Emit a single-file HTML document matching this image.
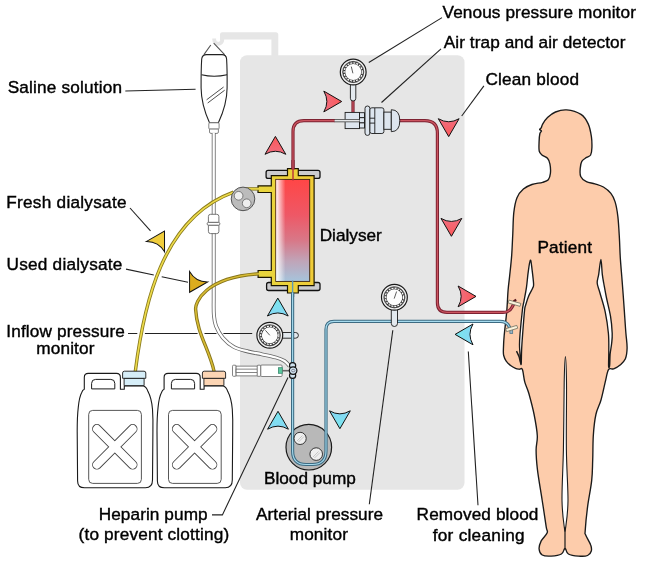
<!DOCTYPE html>
<html><head><meta charset="utf-8"><title>Hemodialysis</title>
<style>
html,body{margin:0;padding:0;background:#fff;width:654px;height:564px;overflow:hidden}
svg{display:block}
text{font-family:"Liberation Sans",sans-serif;font-size:17.2px;fill:#000;stroke:#000;stroke-width:0.4px}
.tx{opacity:0.999}
</style></head><body>
<svg width="654" height="564" viewBox="0 0 654 564">
<defs>
<path id="arw" d="M0,0 L10.4,17.9 Q0,11.8 -10.4,17.9 Z"/>
<linearGradient id="dg" x1="0" y1="0" x2="0" y2="1">
<stop offset="0" stop-color="#ff4646"/>
<stop offset="0.35" stop-color="#ee5866"/>
<stop offset="0.6" stop-color="#d87888"/>
<stop offset="0.8" stop-color="#c0a4b8"/>
<stop offset="1" stop-color="#a6c4dc"/>
</linearGradient>
<linearGradient id="dgh" x1="0" y1="0" x2="1" y2="0">
<stop offset="0" stop-color="#fff" stop-opacity="0.95"/>
<stop offset="0.28" stop-color="#fff" stop-opacity="0"/>
</linearGradient>
<filter id="gs" x="0" y="0" width="654" height="564" filterUnits="userSpaceOnUse"><feOffset dx="0" dy="0"/></filter>
<linearGradient id="gr" x1="0" y1="0" x2="0" y2="1"><stop offset="0" stop-color="#fc5858"/><stop offset="1" stop-color="#f06e80"/></linearGradient>
<linearGradient id="gc" x1="0" y1="0" x2="0" y2="1"><stop offset="0" stop-color="#78e8ee"/><stop offset="1" stop-color="#86d6f4"/></linearGradient>
<linearGradient id="gy" x1="0" y1="0" x2="1" y2="0"><stop offset="0" stop-color="#e8d63e"/><stop offset="1" stop-color="#f0cc38"/></linearGradient>
<clipPath id="pc"><circle cx="308.8" cy="447.2" r="22.8"/></clipPath>
</defs>

<!-- pole & machine box -->
<g fill="#e6e6e6">
<path d="M220,40 L220,34.5 Q220,32.3 222.2,32.3 L275.8,32.3 Q278.3,32.3 278.3,34.8 L278.3,58 L271.4,58 L271.4,39.6 L223.8,39.6 L223.8,40 Z"/>
<rect x="240" y="55.3" width="224.5" height="434.4" rx="7"/>
</g>
<path d="M222.3,34 L222.3,39.75 A4.05,4.05 0 0 1 214.2,39.75 L214.2,38.6" fill="none" stroke="#e6e6e6" stroke-width="3.8"/>

<!-- saline bag -->
<g fill="none" stroke="#222" stroke-width="1.1">
<path d="M210.8,45 L203.9,54.6 M213.7,43.1 L224.6,54.6" stroke="#555"/>
<path d="M206.5,54.6 L222,54.6 Q226.3,54.6 226.6,59 Q227.3,70 227.1,88 C227,103 222,115 218.4,122.8 L209.5,122.8 C206,115 201.2,103 201.1,88 Q201,70 201.7,59 Q202.2,54.6 206.5,54.6 Z" fill="#fff"/>
<path d="M201.5,74.8 Q214,77.8 227.1,74.8"/>
<path d="M206.6,99.8 L223.6,87 M207.7,103 L224.7,90.2" stroke-width="0.8"/>
</g>
<g fill="#fff" stroke="#777" stroke-width="0.9">
<rect x="208.8" y="122.8" width="10.3" height="6.3" rx="1"/>
<path d="M209.5,129.1 L218.4,129.1 L218.4,132 Q218.4,133.4 217,133.4 L211,133.4 Q209.5,133.4 209.5,132 Z"/>
</g>
<path d="M213.7,133 L213.7,300  C213.7,302.5 213.5,310.7 213.9,315.0 C214.3,319.3 214.5,322.2 216.0,326.0 C217.5,329.8 219.8,334.2 222.8,337.7 C225.8,341.2 229.6,344.6 233.8,346.9 C238.0,349.2 243.3,350.3 248.0,351.5 C252.7,352.7 257.3,353.3 262.0,354.3 C266.7,355.3 272.2,356.4 276.0,357.5 C279.8,358.6 282.2,359.6 284.5,361.0 C286.8,362.4 288.7,365.2 289.5,366.0" fill="none" stroke="#666" stroke-width="3.9" />
<path d="M213.7,133 L213.7,300  C213.7,302.5 213.5,310.7 213.9,315.0 C214.3,319.3 214.5,322.2 216.0,326.0 C217.5,329.8 219.8,334.2 222.8,337.7 C225.8,341.2 229.6,344.6 233.8,346.9 C238.0,349.2 243.3,350.3 248.0,351.5 C252.7,352.7 257.3,353.3 262.0,354.3 C266.7,355.3 272.2,356.4 276.0,357.5 C279.8,358.6 282.2,359.6 284.5,361.0 C286.8,362.4 288.7,365.2 289.5,366.0" fill="none" stroke="#fff" stroke-width="2.3" />
<g fill="#fff" stroke="#666" stroke-width="0.9">
<path d="M208.4,222.4 L208.4,216.5 Q208.4,214.3 210.6,214.3 L216.7,214.3 Q218.9,214.3 218.9,216.5 L218.9,222.4 Z"/>
<path d="M208.4,225.2 L208.4,231.4 Q208.4,233.6 210.6,233.6 L216.7,233.6 Q218.9,233.6 218.9,231.4 L218.9,225.2 Z"/>
<rect x="207.1" y="222.4" width="12.8" height="2.8" rx="1.4"/>
</g>

<!-- tubing -->
<circle cx="308.8" cy="447.2" r="22.8" fill="#b8b8b8" stroke="#1a1a1a" stroke-width="1.2"/>
<g>
<rect x="280" y="332.5" width="18.4" height="5.7" rx="2.85" fill="#e3e9ee" stroke="#1a1a1a" stroke-width="0.9"/>
<circle cx="269.8" cy="335.3" r="12.9" fill="#f2f2f2" stroke="#1a1a1a" stroke-width="1.2"/>
<circle cx="269.8" cy="335.3" r="10.6" fill="#fdfdfd" stroke="#1a1a1a" stroke-width="0.7"/>
<circle cx="269.8" cy="335.3" r="9.2" fill="none" stroke="#2a2a2a" stroke-width="2.4"/>
<circle cx="269.8" cy="335.3" r="9.1" fill="none" stroke="#fff" stroke-width="1.2" stroke-dasharray="2.1 0.95"/>
<path d="M269.8,335.3 L265.4,330.3" stroke="#333" stroke-width="0.8"/>
</g>
<path d="M293,170 L293,131.7 Q293,120.7 304,120.7 L335,120.7" fill="none" stroke="#7e2232" stroke-width="3.2" />
<path d="M293,170 L293,131.7 Q293,120.7 304,120.7 L335,120.7" fill="none" stroke="#cc5560" stroke-width="1.2" />
<path d="M399,120.7 L424.9,120.7 Q437.4,120.7 437.4,133.2 L437.4,302.8 Q437.4,312.4 447,312.4 L490,312.4" fill="none" stroke="#7e2232" stroke-width="3.2" />
<path d="M399,120.7 L424.9,120.7 Q437.4,120.7 437.4,133.2 L437.4,302.8 Q437.4,312.4 447,312.4 L490,312.4" fill="none" stroke="#cc5560" stroke-width="1.2" />
<path d="M353,100 L353,112.5" fill="none" stroke="#7e2232" stroke-width="3.2" />
<path d="M353,100 L353,112.5" fill="none" stroke="#cc5560" stroke-width="1.2" />
<path d="M292.6,283 L292.6,451 Q292.6,464.5 306.1,464.5 L312.5,464.5 Q326,464.5 326,451 L326,329.4 Q326,321.4 334,321.4 L490,321.4" fill="none" stroke="#3d6b82" stroke-width="3.2" />
<path d="M292.6,283 L292.6,451 Q292.6,464.5 306.1,464.5 L312.5,464.5 Q326,464.5 326,451 L326,329.4 Q326,321.4 334,321.4 L490,321.4" fill="none" stroke="#a6dbef" stroke-width="1.1" />

<!-- dialyser -->
<rect x="266.1" y="170.4" width="53.9" height="8" rx="2" fill="#cbcbce" stroke="#111" stroke-width="1.3"/>
<rect x="266.6" y="282.5" width="53.4" height="8" rx="2" fill="#cbcbce" stroke="#111" stroke-width="1.3"/>
<path d="M271.3,175.6 L287.5,175.6 L287.5,168.7 L298.3,168.7 L298.3,175.6 L314.1,175.6 L314.1,285.6 L298.3,285.6 L298.3,293 L287.5,293 L287.5,285.6 L271.3,285.6 L271.3,277.4 L258.1,277.4 L258.1,270.5 L271.3,270.5 L271.3,192.5 L258,192.5 L258,185.8 L271.3,185.8 Z" fill="url(#gy)" stroke="#1a1400" stroke-width="1.2"/>
<rect x="275.8" y="179.4" width="33.9" height="102" fill="url(#dg)" stroke="#3a2010" stroke-width="0.9"/>
<rect x="276.2" y="179.8" width="33.1" height="101.2" fill="url(#dgh)"/>
<path d="M293,160 L293,169.5" fill="none" stroke="#7e2232" stroke-width="3.2" />
<path d="M293,160 L293,169.5" fill="none" stroke="#cc5560" stroke-width="1.2" />
<path d="M293,168 L293,180.5" stroke="#b8303a" stroke-width="1.4"/>
<path d="M292.6,280.5 L292.6,293.5" stroke="#5a9ab8" stroke-width="1.4"/>
<path d="M292.6,292.4 L292.6,297" fill="none" stroke="#3d6b82" stroke-width="3.2" />
<path d="M292.6,292.4 L292.6,297" fill="none" stroke="#a6dbef" stroke-width="1.1" />

<!-- yellow tubes -->
<path d="M135.3,371.5 C143.7,305.7 161.6,218.2 233.5,192.2" fill="none" stroke="#8a7c1e" stroke-width="3.4" />
<path d="M135.3,371.5 C143.7,305.7 161.6,218.2 233.5,192.2" fill="none" stroke="#eedb4a" stroke-width="1.6" />
<path d="M214.1,371.5 C209.3,349.4 196.8,333.1 195.6,309.2 C195.3,302.7 204,277.5 259,273.8" fill="none" stroke="#86741a" stroke-width="3.4" />
<path d="M214.1,371.5 C209.3,349.4 196.8,333.1 195.6,309.2 C195.3,302.7 204,277.5 259,273.8" fill="none" stroke="#d8bc34" stroke-width="1.6" />

<!-- dialysate pump -->
<path d="M246,188.9 L259,188.9" fill="none" stroke="#8a7c1e" stroke-width="3.4" />
<path d="M246,188.9 L259,188.9" fill="none" stroke="#eedb4a" stroke-width="1.6" />
<circle cx="243" cy="198.9" r="11.8" fill="#bcbcbc" stroke="#444" stroke-width="0.9"/>
<circle cx="238.6" cy="195.8" r="4.35" fill="#efefef" stroke="#555" stroke-width="0.7"/>
<circle cx="246.7" cy="203.3" r="4.35" fill="#efefef" stroke="#555" stroke-width="0.7"/>

<!-- arrows -->
<g stroke="#111" stroke-width="1" fill="url(#gr)">
<use href="#arw" transform="translate(275.4,136.4)"/>
<use href="#arw" transform="translate(341.7,101.5) rotate(90)"/>
<use href="#arw" transform="translate(448.7,136.6) rotate(180)"/>
<use href="#arw" transform="translate(451.4,236.3) rotate(180)"/>
<use href="#arw" transform="translate(476,296.4) rotate(90)"/>
</g>
<g stroke="#111" stroke-width="1" fill="url(#gc)">
<use href="#arw" transform="translate(277.8,298.1)"/>
<use href="#arw" transform="translate(278,411.3)"/>
<use href="#arw" transform="translate(339.9,428.7) rotate(180)"/>
<use href="#arw" transform="translate(455.1,334.4) rotate(-90)"/>
</g>
<use href="#arw" transform="translate(164.5,231.1) rotate(30)" fill="#f0cd3c" stroke="#111" stroke-width="1"/>
<use href="#arw" transform="translate(189.6,292.3) rotate(210)" fill="#dcac1e" stroke="#111" stroke-width="1"/>

<!-- gauges -->
<g>
<rect x="350.4" y="82" width="5.4" height="19" rx="2.7" fill="#e3e9ee" stroke="#1a1a1a" stroke-width="0.9"/>
<circle cx="353.2" cy="72.0" r="12.9" fill="#f2f2f2" stroke="#1a1a1a" stroke-width="1.2"/>
<circle cx="353.2" cy="72.0" r="10.6" fill="#fdfdfd" stroke="#1a1a1a" stroke-width="0.7"/>
<circle cx="353.2" cy="72.0" r="9.2" fill="none" stroke="#2a2a2a" stroke-width="2.4"/>
<circle cx="353.2" cy="72.0" r="9.1" fill="none" stroke="#fff" stroke-width="1.2" stroke-dasharray="2.1 0.95"/>
<path d="M352.9,73.3 L351.3,66.6" stroke="#333" stroke-width="0.8"/>
</g>
<g>
<rect x="391.3" y="306" width="6.2" height="20.5" rx="3.1" fill="#e3e9ee" stroke="#1a1a1a" stroke-width="0.9"/>
<circle cx="394.4" cy="297.3" r="12.9" fill="#f2f2f2" stroke="#1a1a1a" stroke-width="1.2"/>
<circle cx="394.4" cy="297.3" r="10.6" fill="#fdfdfd" stroke="#1a1a1a" stroke-width="0.7"/>
<circle cx="394.4" cy="297.3" r="9.2" fill="none" stroke="#2a2a2a" stroke-width="2.4"/>
<circle cx="394.4" cy="297.3" r="9.1" fill="none" stroke="#fff" stroke-width="1.2" stroke-dasharray="2.1 0.95"/>
<path d="M394.2,298.6 L396.6,291.5" stroke="#333" stroke-width="0.8"/>
</g>

<!-- air trap -->
<g fill="#dde5ee" stroke="#1a1a1a" stroke-width="0.9">
<rect x="345.1" y="112.4" width="14.4" height="16.2"/>
<rect x="359.5" y="112.7" width="5" height="5"/>
<rect x="359.5" y="117.7" width="5" height="5.2"/>
<rect x="359.5" y="122.9" width="5" height="5.1"/>
<rect x="365" y="106" width="4.9" height="29.4" rx="2.4"/>
<rect x="369.9" y="107.8" width="14" height="25.7" rx="2"/>
<path d="M374.8,108 L374.8,133.3 M369.9,118.2 L374.8,118.2 M369.9,123.1 L374.8,123.1" fill="none"/>
<rect x="383.9" y="112.1" width="7.4" height="17.2"/>
<path d="M391.3,109.7 Q399.8,109.7 399.8,120.7 Q399.8,131.7 391.3,131.7 Z"/>
</g>
<path d="M334.6,120.7 L359.5,120.7" fill="none" stroke="#555" stroke-width="3.2" />
<path d="M334.6,120.7 L359.5,120.7" fill="none" stroke="#eef0f2" stroke-width="1.3" />

<!-- heparin syringe -->
<g fill="#fff" stroke="#666" stroke-width="0.8">
<rect x="232.5" y="365.2" width="3.6" height="11.1" rx="1"/>
<rect x="236.1" y="366.1" width="21.5" height="9.8"/>
<rect x="236.1" y="369.1" width="21.5" height="3.4"/>
<rect x="257.2" y="365.2" width="3.6" height="11.1" rx="0.8"/>
<rect x="260.8" y="365" width="21.3" height="11.5" rx="1"/>
<rect x="278.4" y="367.7" width="3.9" height="5.6" fill="#5dc9a0" stroke="#3a8a70"/>
<path d="M282.3,370.7 L290,370.7" fill="none" stroke="#666" stroke-width="1.6"/>
</g>
<g fill="#cfe2ee" stroke="#111" stroke-width="1.2">
<ellipse cx="292.6" cy="365.5" rx="3.1" ry="2.9"/>
<ellipse cx="292.6" cy="375.5" rx="3.1" ry="2.9"/>
<ellipse cx="293.1" cy="370.6" rx="3.8" ry="3.7"/>
</g>
<ellipse cx="293.2" cy="370.6" rx="1.8" ry="1.2" fill="none" stroke="#667" stroke-width="0.7"/>

<!-- blood pump -->
<g fill="#efefef" stroke="#222" stroke-width="0.9">
<circle cx="300.1" cy="438.4" r="6.1"/>
<circle cx="316.2" cy="454.1" r="6.3"/>
</g>
<path d="M297,441 L302.5,435.5 M298.5,442 L304,436.5 M313,457 L318.5,451.5 M314.5,458 L320,452.5" stroke="#aaa" stroke-width="0.6"/>

<!-- containers -->
<g transform="translate(0,0)">
<path d="M84.3,389.3 L84.3,377.4 Q84.3,373.4 88.3,373.4 L116.4,373.4 Q120.4,373.4 120.4,377.4 L120.4,389.3 L124.3,389.3 L124.3,386 L143.6,386 Q146.5,387 148,391.6 Q151.5,398 152.5,409.3 Q153.2,420 152.9,431.4 L152.5,480.1 Q152.5,487.8 145.5,487.8 L84.5,487.8 Q77.6,487.8 77.6,481 L77.2,431.4 Q77.2,416 78.3,407.1 Q79.3,397 81.6,392.7 Q82.6,389.9 84.3,389.3 Z" fill="#fff" stroke="#1a1a1a" stroke-width="1.1" stroke-linejoin="round"/>
<path d="M91.6,388.9 L91.6,383.4 Q91.6,379.4 95.6,379.4 L110.8,379.4 Q114.8,379.4 114.8,383.4 L114.8,388.9 Z" fill="#fff" stroke="#1a1a1a" stroke-width="1"/>
<rect x="88.7" y="410.4" width="52.7" height="73" rx="4" fill="#fff" stroke="#444" stroke-width="0.9"/>
<path d="M96.9,428.9 L132.7,464.8 M132.7,428.9 L96.9,464.8" stroke="#444" stroke-width="9.6" stroke-linecap="round"/>
<path d="M96.9,428.9 L132.7,464.8 M132.7,428.9 L96.9,464.8" stroke="#fff" stroke-width="7.8" stroke-linecap="round"/>
<path d="M124.1,378.3 L124.1,385.6 L144.1,385.6 L144.1,378.3 Z" fill="#d6eef8" stroke="#1a1a1a" stroke-width="0.9"/>
<path d="M122.6,378.3 L122.6,373 Q122.6,371.2 124.4,371.2 L144,371.2 Q145.8,371.2 145.8,373 L145.8,378.3 Z" fill="#d6eef8" stroke="#1a1a1a" stroke-width="0.9"/>
</g>
<g transform="translate(79.8,0)">
<path d="M84.3,389.3 L84.3,377.4 Q84.3,373.4 88.3,373.4 L116.4,373.4 Q120.4,373.4 120.4,377.4 L120.4,389.3 L124.3,389.3 L124.3,386 L143.6,386 Q146.5,387 148,391.6 Q151.5,398 152.5,409.3 Q153.2,420 152.9,431.4 L152.5,480.1 Q152.5,487.8 145.5,487.8 L84.5,487.8 Q77.6,487.8 77.6,481 L77.2,431.4 Q77.2,416 78.3,407.1 Q79.3,397 81.6,392.7 Q82.6,389.9 84.3,389.3 Z" fill="#fff" stroke="#1a1a1a" stroke-width="1.1" stroke-linejoin="round"/>
<path d="M91.6,388.9 L91.6,383.4 Q91.6,379.4 95.6,379.4 L110.8,379.4 Q114.8,379.4 114.8,383.4 L114.8,388.9 Z" fill="#fff" stroke="#1a1a1a" stroke-width="1"/>
<rect x="88.7" y="410.4" width="52.7" height="73" rx="4" fill="#fff" stroke="#444" stroke-width="0.9"/>
<path d="M96.9,428.9 L132.7,464.8 M132.7,428.9 L96.9,464.8" stroke="#444" stroke-width="9.6" stroke-linecap="round"/>
<path d="M96.9,428.9 L132.7,464.8 M132.7,428.9 L96.9,464.8" stroke="#fff" stroke-width="7.8" stroke-linecap="round"/>
<path d="M124.1,378.3 L124.1,385.6 L144.1,385.6 L144.1,378.3 Z" fill="#fcd5b4" stroke="#1a1a1a" stroke-width="0.9"/>
<path d="M122.6,378.3 L122.6,373 Q122.6,371.2 124.4,371.2 L144,371.2 Q145.8,371.2 145.8,373 L145.8,378.3 Z" fill="#fcd5b4" stroke="#1a1a1a" stroke-width="0.9"/>
</g>

<!-- patient -->
<g stroke="#1a1a1a" stroke-width="1.35" stroke-linejoin="round">
<path d="M566.7,109.9 C571.0,110.3 577.4,112.1 581.0,114.4 C584.6,116.7 586.5,120.2 588.2,123.9 C589.9,127.6 590.8,132.7 591.4,136.7 C592.0,140.7 592.0,144.8 591.9,147.8 C591.8,150.9 591.5,153.4 590.6,155.0 C589.7,156.6 588.1,156.3 586.6,157.4 C585.1,158.5 582.9,159.5 581.8,161.4 C580.7,163.3 580.4,166.1 580.2,168.6 C580.0,171.1 579.7,174.3 580.7,176.5 C581.7,178.7 584.0,180.5 586.4,181.7 C588.8,182.9 592.1,182.9 594.9,183.8 C597.7,184.7 600.7,185.4 603.4,187.0 C606.1,188.6 608.9,190.9 610.9,193.4 C612.9,195.9 613.9,198.0 615.1,201.9 C616.3,205.8 617.2,210.8 617.9,216.8 C618.6,222.8 619.0,231.0 619.4,238.1 C619.8,245.2 619.9,252.3 620.4,259.4 C620.9,266.5 621.4,271.9 622.1,280.6 C622.8,289.4 623.8,303.1 624.4,311.9 C625.0,320.7 625.4,327.2 625.9,333.2 C626.4,339.2 627.2,343.9 627.1,348.1 C627.0,352.4 626.6,355.9 625.4,358.7 C624.2,361.5 622.0,363.4 620.1,365.1 C618.2,366.8 615.6,368.1 613.7,368.9 C611.8,369.6 609.9,367.4 608.5,369.6 C607.1,371.8 606.5,377.0 605.2,382.1 C604.0,387.2 602.5,394.6 601.0,400.0 C599.5,405.4 597.2,408.6 595.9,414.5 C594.6,420.4 593.8,428.1 593.3,435.7 C592.8,443.3 593.0,452.6 592.7,460.0 C592.4,467.4 592.6,472.5 591.7,480.3 C590.9,488.1 588.7,498.2 587.6,506.6 C586.5,515.0 585.5,526.1 585.2,530.8 C584.9,535.5 584.7,532.4 585.6,534.8 C586.5,537.2 589.8,542.3 590.7,545.0 C591.7,547.7 591.8,549.2 591.3,551.0 C590.8,552.8 589.7,554.6 587.6,555.5 C585.5,556.4 581.7,556.4 578.5,556.1 C575.3,555.9 570.5,555.2 568.4,554.0 C566.2,552.8 566.3,549.8 565.6,549.0 C564.9,548.2 565.1,548.2 564.4,549.0 C563.7,549.8 563.6,552.8 561.4,554.0 C559.2,555.2 554.5,555.9 551.3,556.1 C548.1,556.3 544.2,556.2 542.2,555.0 C540.2,553.8 539.3,551.4 539.1,549.0 C538.9,546.6 539.9,543.6 541.2,540.9 C542.6,538.2 546.4,535.1 547.2,532.8 C548.0,530.4 547.0,532.2 546.2,526.8 C545.4,521.4 543.7,509.9 542.2,500.5 C540.8,491.1 538.5,478.6 537.5,470.2 C536.5,461.8 536.1,455.8 536.1,450.0 C536.1,444.2 537.6,441.6 537.3,435.7 C537.0,429.8 535.5,421.6 534.1,414.5 C532.7,407.4 530.3,398.6 528.8,393.2 C527.2,387.8 525.9,386.1 524.8,382.1 C523.7,378.2 523.3,371.6 522.4,369.5 C521.5,367.4 520.4,369.4 519.3,369.2 C518.1,369.0 517.0,368.9 515.5,368.3 C514.0,367.7 512.1,366.7 510.6,365.5 C509.1,364.3 507.4,362.8 506.2,361.1 C505.0,359.4 504.2,357.5 503.7,355.5 C503.2,353.5 503.3,352.7 503.4,349.3 C503.5,345.9 503.6,341.5 504.2,335.3 C504.8,329.1 506.0,319.4 506.7,311.9 C507.4,304.3 507.6,295.9 508.1,290.0 C508.6,284.1 509.0,282.2 509.6,276.4 C510.2,270.6 511.2,262.2 511.7,255.1 C512.2,248.0 512.4,240.9 512.8,233.8 C513.1,226.7 513.1,218.6 513.8,212.6 C514.5,206.6 515.4,201.6 517.0,197.7 C518.6,193.8 520.9,191.3 523.4,189.1 C525.9,186.9 528.7,185.6 531.9,184.5 C535.1,183.4 539.9,183.1 542.6,182.3 C545.3,181.5 547.0,181.2 548.3,179.7 C549.6,178.2 550.1,176.1 550.4,173.4 C550.7,170.8 550.4,166.3 549.9,163.8 C549.4,161.3 548.8,159.7 547.5,158.2 C546.2,156.7 543.4,156.2 542.0,155.0 C540.6,153.8 539.7,153.2 539.2,151.0 C538.7,148.8 539.0,144.4 539.1,141.5 C539.2,138.6 539.5,135.2 539.9,133.5 C540.3,131.8 541.5,131.8 541.5,131.1 C541.5,130.4 539.6,130.0 539.6,129.5 C539.6,129.0 540.7,128.8 541.2,127.9 C541.7,127.0 541.8,125.6 542.8,123.9 C543.8,122.2 545.4,119.5 547.5,117.5 C549.6,115.5 552.3,113.3 555.5,112.0 C558.7,110.7 562.5,109.5 566.7,109.9 Z" fill="#fdccab"/>
<path d="M530.4,260.1 C531.0,259.7 531.5,265.1 532.0,269.1 C532.5,273.1 533.5,280.8 533.6,284.0 C533.7,287.2 533.4,286.4 532.6,288.3 C531.8,290.2 530.0,292.9 528.8,295.7 C527.6,298.5 526.3,302.9 525.6,305.3 C524.9,307.7 525.1,305.4 524.6,310.0 C524.1,314.6 523.2,326.5 522.7,333.2 C522.2,339.9 521.8,345.1 521.6,350.0 C521.4,354.9 521.4,360.2 521.3,362.5 C521.2,364.8 521.0,365.3 520.8,363.6 C520.6,361.9 520.1,355.5 519.9,352.4 C519.7,349.3 519.5,348.2 519.5,345.0 C519.5,341.8 519.6,339.0 520.1,333.2 C520.6,327.4 521.8,315.4 522.4,310.0 C523.0,304.6 523.3,304.9 524.0,301.1 C524.7,297.3 525.8,292.2 526.5,287.2 C527.2,282.2 527.6,275.8 528.3,271.3 C528.9,266.8 529.8,260.5 530.4,260.1 Z" fill="#fff"/>
<path d="M600.9,259.4 C600.3,259.4 599.3,270.4 598.7,274.3 C598.1,278.2 597.0,279.9 597.2,283.0 C597.4,286.1 598.6,288.0 599.9,292.8 C601.2,297.6 603.8,305.2 605.2,311.9 C606.6,318.6 607.8,326.8 608.4,333.2 C609.0,339.6 608.8,344.7 608.8,350.2 C608.8,355.7 608.5,363.4 608.6,366.0 C608.7,368.6 609.4,367.9 609.6,366.0 C609.9,364.1 609.8,358.2 610.1,354.5 C610.4,350.8 611.2,347.4 611.6,343.8 C612.0,340.2 612.4,337.8 612.2,333.2 C612.0,328.6 611.5,322.2 610.5,316.2 C609.5,310.2 607.4,302.5 606.3,297.0 C605.2,291.5 604.4,286.8 603.7,283.0 C603.0,279.2 602.8,278.2 602.3,274.3 C601.8,270.4 601.5,259.4 600.9,259.4 Z" fill="#fff"/>
<path d="M565.4,356.6 C565.8,356.6 566.3,367.0 566.5,382.6 C566.7,398.2 566.1,430.4 566.4,450.0 C566.6,469.6 568.1,487.5 568.0,500.5 C567.9,513.5 566.2,523.4 565.6,528.0 C565.0,532.6 565.0,532.6 564.4,528.0 C563.8,523.4 562.2,513.5 562.0,500.5 C561.8,487.5 563.0,469.6 563.4,450.0 C563.8,430.4 563.9,398.2 564.2,382.6 C564.5,367.0 565.0,356.6 565.4,356.6 Z" fill="#fff" stroke-width="1.1"/>
<path d="M565,527 L565,549.5" fill="none" stroke-width="1.2"/>
<path d="M516.5,351.2 Q519.5,356 520.8,363.6" fill="none" stroke-width="1.5"/>
</g>

<!-- arm tubes -->
<path d="M490,312.4 L503,312.4 Q509.5,312.4 512.3,306.7 L515.2,301.2" fill="none" stroke="#7e2232" stroke-width="3.2" />
<path d="M490,312.4 L503,312.4 Q509.5,312.4 512.3,306.7 L515.2,301.2" fill="none" stroke="#cc5560" stroke-width="1.2" />
<path d="M513.6,301.4 L516.2,299.6" stroke="#5a1a20" stroke-width="2.2"/>
<path d="M490,321.4 L500,321.4 Q506,321.4 508.6,325.5 L510.6,330" fill="none" stroke="#3d6b82" stroke-width="3.2" />
<path d="M490,321.4 L500,321.4 Q506,321.4 508.6,325.5 L510.6,330" fill="none" stroke="#a6dbef" stroke-width="1.1" />
<rect x="509.9" y="329.6" width="2.8" height="3.9" fill="#9ab4c4" stroke="#3f6d85" stroke-width="0.7"/>
<rect x="-6.2" y="-1.5" width="12.4" height="3" transform="translate(514.5,303.2) rotate(16)" fill="#fbf3dc" stroke="#6a6a5a" stroke-width="0.7"/>
<rect x="-5.8" y="-1.5" width="11.6" height="3" transform="translate(511.7,328.5) rotate(-17)" fill="#fbf3dc" stroke="#6a6a5a" stroke-width="0.7"/>

<!-- leader lines -->
<g stroke="#222" stroke-width="1.1" fill="none">
<path d="M125.3,91 L195.6,89.2"/>
<path d="M442,17.6 L368.8,62.5"/>
<path d="M441,48.8 L381.5,102.5"/>
<path d="M483.9,85.8 L461.7,116"/>
<path d="M130,208 L150.5,230.9"/>
<path d="M126,269.1 L153.8,275 M161.7,276.7 L188,282.2"/>
<path d="M128,333.5 L137.3,333.5 M144.9,333.5 L197.6,333.5 M204.5,333.5 L216.5,333.5 M223.4,333.5 L252.2,333.5"/>
<path d="M212,514.9 L222.4,514.9 L288,377.6"/>
<path d="M369.3,504.2 L392.8,330.2"/>
<path d="M478,505.3 L468.3,351.5"/>
</g>

<!-- labels -->
<g filter="url(#gs)">
<text x="442.6" y="17.5" letter-spacing="0.10">Venous pressure monitor</text>
<text x="443.7" y="47.8" letter-spacing="0.09">Air trap and air detector</text>
<text x="485.5" y="84.8" letter-spacing="0.18">Clean blood</text>
<text x="7.7" y="92.6" letter-spacing="0.18">Saline solution</text>
<text x="6.3" y="207.8" letter-spacing="0.26">Fresh dialysate</text>
<text x="6.5" y="270.4" letter-spacing="0.24">Used dialysate</text>
<text x="6.3" y="336.8" letter-spacing="0.14">Inflow pressure</text>
<text x="36.2" y="353.6" letter-spacing="0.17">monitor</text>
<text x="319.7" y="240.5" letter-spacing="0.01">Dialyser</text>
<text x="537.4" y="252.5" letter-spacing="0.17">Patient</text>
<text x="264.0" y="484.0" letter-spacing="0.01">Blood pump</text>
<text x="98.7" y="520.1" letter-spacing="0.09">Heparin pump</text>
<text x="78.6" y="540.2" letter-spacing="0.17">(to prevent clotting)</text>
<text x="256.0" y="519.6" letter-spacing="0.06">Arterial pressure</text>
<text x="289.7" y="540.2" letter-spacing="0.15">monitor</text>
<text x="416.6" y="519.6" letter-spacing="0.12">Removed blood</text>
<text x="432.7" y="540.5" letter-spacing="0.28">for cleaning</text>
</g>
</svg>
</body></html>
